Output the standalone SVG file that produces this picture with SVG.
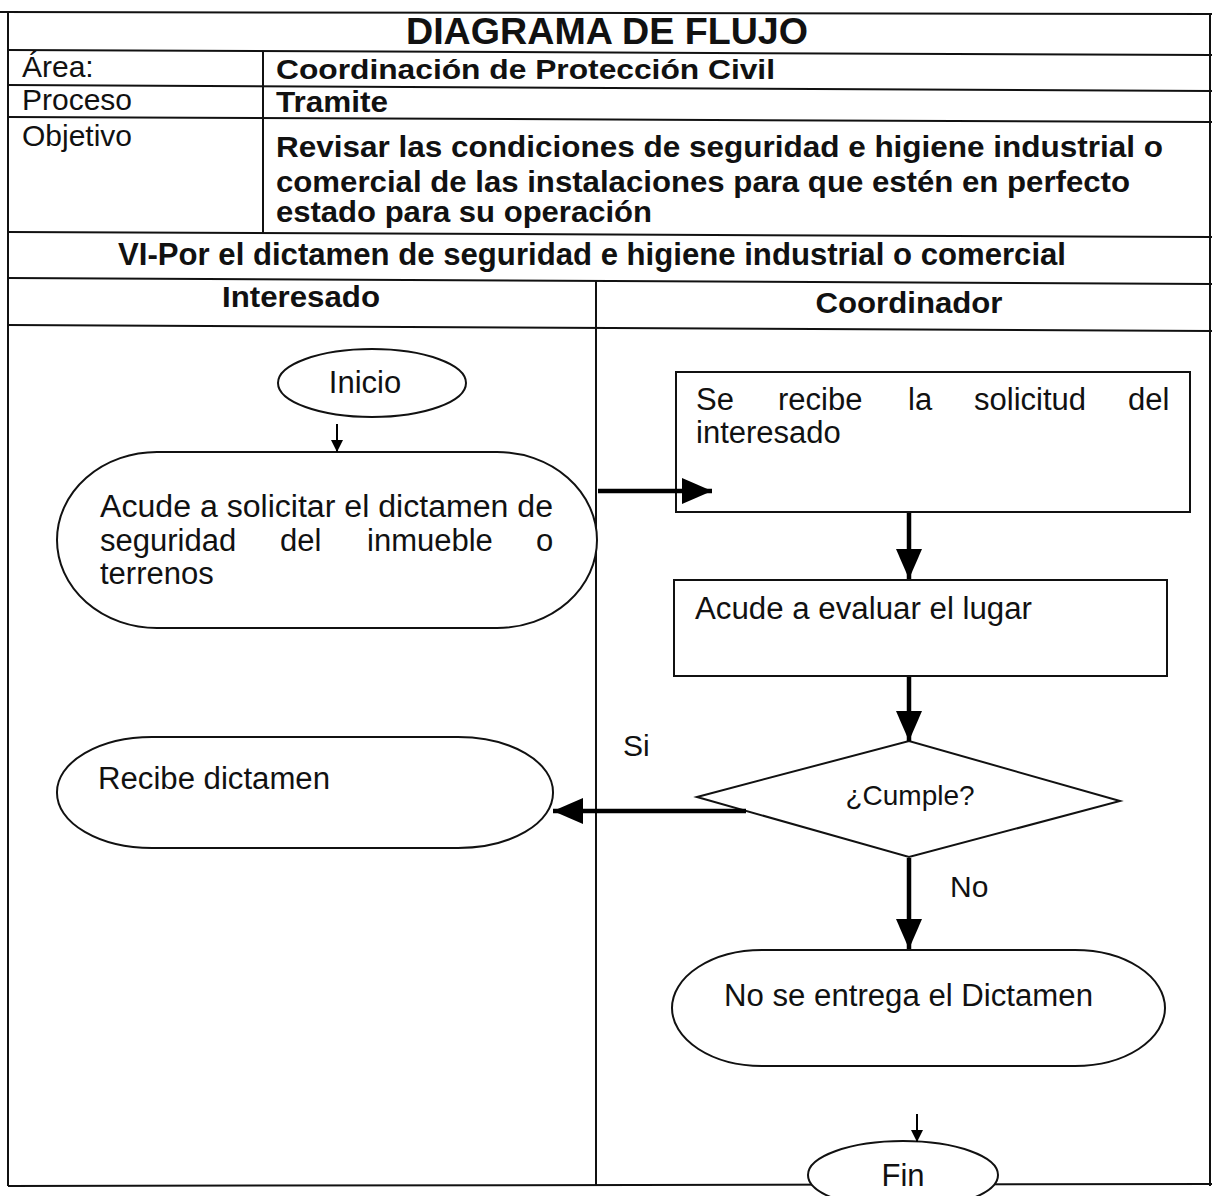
<svg xmlns="http://www.w3.org/2000/svg" width="1212" height="1196" viewBox="0 0 1212 1196">
  <style>
    .ln { stroke:#111; stroke-width:2; fill:none; }
    .shape { stroke:#111; stroke-width:2; fill:#fff; }
    .t { font-family:"Liberation Sans", Arial, sans-serif; fill:#111; }
    .b { font-weight:bold; }
    .con { stroke:#000; stroke-width:4.5; fill:none; }
    .thin { stroke:#000; stroke-width:2; fill:none; }
  </style>
  <defs>
    <marker id="big" markerUnits="userSpaceOnUse" markerWidth="30" markerHeight="26" viewBox="0 0 30 26" refX="30" refY="13" orient="auto">
      <path d="M0,0 L30,13 L0,26 Z" fill="#000"/>
    </marker>
    <marker id="small" markerUnits="userSpaceOnUse" markerWidth="12" markerHeight="12" viewBox="0 0 12 12" refX="12" refY="6" orient="auto">
      <path d="M0,0 L12,6 L0,12 Z" fill="#000"/>
    </marker>
  </defs>
  <rect x="0" y="0" width="1212" height="1196" fill="#fff"/>

  <!-- table frame -->
  <g id="table">
    <line class="ln" x1="0" y1="12" x2="1212" y2="14"/>
    <line class="ln" x1="8" y1="12" x2="8" y2="1186"/>
    <line class="ln" x1="1210" y1="14" x2="1210" y2="1186"/>
    <line class="ln" x1="8" y1="50" x2="1212" y2="55"/>
    <line class="ln" x1="8" y1="85" x2="1212" y2="91"/>
    <line class="ln" x1="8" y1="117" x2="1212" y2="122"/>
    <line class="ln" x1="8" y1="232" x2="1212" y2="237"/>
    <line class="ln" x1="8" y1="278" x2="1212" y2="284"/>
    <line class="ln" x1="8" y1="325" x2="1212" y2="331"/>
    <line class="ln" x1="8" y1="1186" x2="1212" y2="1184"/>
    <line class="ln" x1="263" y1="51" x2="263" y2="234"/>
    <line class="ln" x1="596" y1="281" x2="596" y2="1186"/>
    <text class="t b" x="607" y="44" font-size="37" text-anchor="middle" textLength="402" lengthAdjust="spacingAndGlyphs">DIAGRAMA DE FLUJO</text>
    <text class="t" x="22" y="77" font-size="30">Área:</text>
    <text class="t b" x="276" y="79" font-size="28" textLength="499" lengthAdjust="spacingAndGlyphs">Coordinación  de Protección Civil</text>
    <text class="t" x="22" y="110" font-size="30">Proceso</text>
    <text class="t b" x="276" y="112" font-size="29" textLength="112" lengthAdjust="spacingAndGlyphs">Tramite</text>
    <text class="t" x="22" y="146" font-size="30">Objetivo</text>
    <text class="t b" x="276" y="157" font-size="29" textLength="887" lengthAdjust="spacingAndGlyphs">Revisar las condiciones de seguridad e higiene  industrial o</text>
    <text class="t b" x="276" y="192" font-size="29" textLength="854" lengthAdjust="spacingAndGlyphs">comercial de las instalaciones para que estén en perfecto</text>
    <text class="t b" x="276" y="222" font-size="29" textLength="376" lengthAdjust="spacingAndGlyphs">estado para su operación</text>
    <text class="t b" x="592" y="265" font-size="32" text-anchor="middle" textLength="948" lengthAdjust="spacingAndGlyphs">VI-Por el dictamen de seguridad e higiene industrial o comercial</text>
    <text class="t b" x="301" y="307" font-size="29" text-anchor="middle" textLength="158" lengthAdjust="spacingAndGlyphs">Interesado</text>
    <text class="t b" x="909" y="313" font-size="29" text-anchor="middle" textLength="187" lengthAdjust="spacingAndGlyphs">Coordinador</text>
  </g>

  <g id="n-inicio">
    <ellipse class="shape" cx="372" cy="383" rx="94" ry="34"/>
    <text class="t" x="365" y="393" font-size="31" text-anchor="middle">Inicio</text>
  </g>

  <g id="n-acude">
    <rect class="shape" x="57" y="452" width="540" height="176" rx="100" ry="88"/>
    <text class="t" x="100" y="517" font-size="31" textLength="453" lengthAdjust="spacingAndGlyphs">Acude a solicitar el dictamen de</text>
    <text class="t" y="551" font-size="31"><tspan x="100">seguridad</tspan> <tspan x="280">del</tspan> <tspan x="367">inmueble</tspan> <tspan x="536">o</tspan></text>
    <text class="t" x="100" y="584" font-size="31">terrenos</text>
  </g>

  <g id="n-recibe-solicitud">
    <rect class="shape" x="676" y="372" width="514" height="140"/>
    <text class="t" y="410" font-size="31"><tspan x="696">Se</tspan> <tspan x="778">recibe</tspan> <tspan x="908">la</tspan> <tspan x="974">solicitud</tspan> <tspan x="1128">del</tspan></text>
    <text class="t" x="696" y="443" font-size="31">interesado</text>
  </g>

  <g id="n-evaluar">
    <rect class="shape" x="674" y="580" width="493" height="96"/>
    <text class="t" x="695" y="619" font-size="31" textLength="337" lengthAdjust="spacingAndGlyphs">Acude a evaluar el lugar</text>
  </g>

  <g id="n-cumple">
    <polygon class="shape" points="697,797 909,741 1120,801 909,857"/>
    <text class="t" x="910" y="805" font-size="28" text-anchor="middle">¿Cumple?</text>
  </g>
  <text class="t" x="623" y="756" font-size="30">Si</text>
  <text class="t" x="950" y="897" font-size="30">No</text>

  <g id="n-recibe-dictamen">
    <rect class="shape" x="57" y="737" width="496" height="111" rx="95" ry="55"/>
    <text class="t" x="98" y="789" font-size="31" textLength="232" lengthAdjust="spacingAndGlyphs">Recibe dictamen</text>
  </g>

  <g id="n-no-entrega">
    <rect class="shape" x="672" y="950" width="493" height="116" rx="90" ry="58"/>
    <text class="t" x="724" y="1006" font-size="31" textLength="369" lengthAdjust="spacingAndGlyphs">No se entrega el Dictamen</text>
  </g>

  <g id="n-fin">
    <ellipse class="shape" cx="903" cy="1175" rx="95" ry="34"/>
    <text class="t" x="903" y="1186" font-size="31" text-anchor="middle">Fin</text>
  </g>

  <!-- connectors -->
  <g id="connectors">
    <line class="thin" x1="337" y1="424" x2="337" y2="452" marker-end="url(#small)"/>
    <line class="con" x1="598" y1="491" x2="712" y2="491" marker-end="url(#big)"/>
    <line class="con" x1="909" y1="513" x2="909" y2="579" marker-end="url(#big)"/>
    <line class="con" x1="909" y1="677" x2="909" y2="741" marker-end="url(#big)"/>
    <line class="con" x1="746" y1="811" x2="553" y2="811" marker-end="url(#big)"/>
    <line class="con" x1="909" y1="858" x2="909" y2="949" marker-end="url(#big)"/>
    <line class="thin" x1="917" y1="1114" x2="917" y2="1142" marker-end="url(#small)"/>
  </g>
</svg>
